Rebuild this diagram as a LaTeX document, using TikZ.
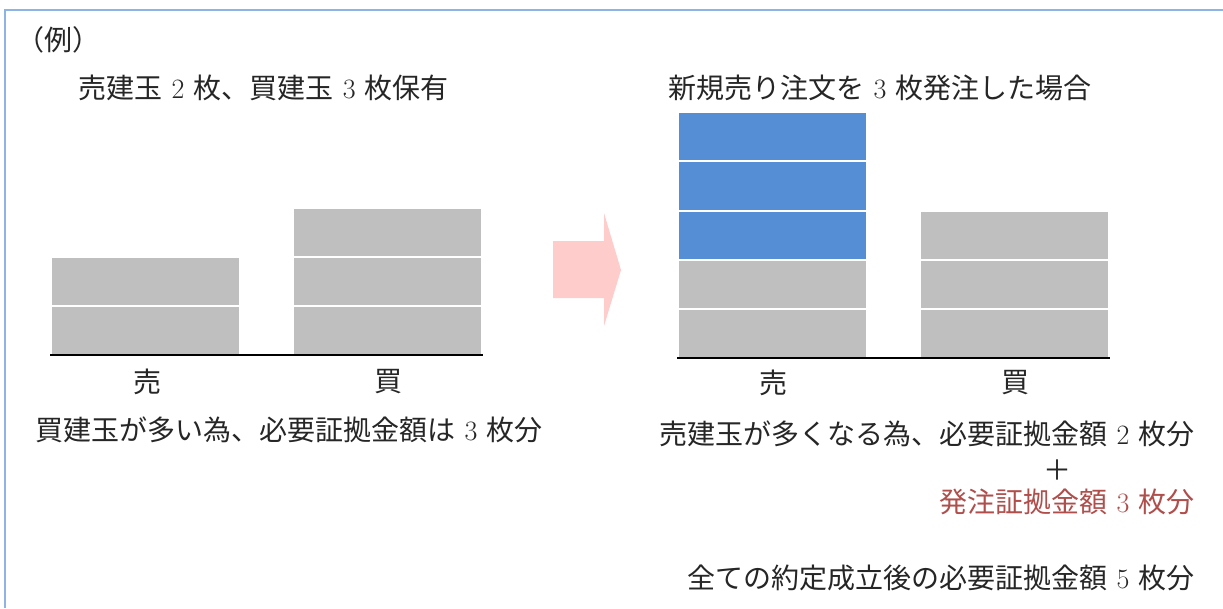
\documentclass[tikz,border=0pt]{standalone}
\usepackage{fontspec}
\newfontfamily\cjk{Noto Sans CJK JP}
\definecolor{borderblue}{RGB}{142,180,227}
\definecolor{bargray}{RGB}{191,191,191}
\definecolor{barblue}{RGB}{85,142,213}
\definecolor{arrowpink}{RGB}{255,204,204}
\definecolor{redtext}{RGB}{175,78,75}
\newcommand\dg[1]{\hspace{0.33em}{\rmfamily #1}\hspace{0.33em}}
\tikzset{
  txt/.style={inner sep=0pt, font=\cjk\fontsize{21}{25}\selectfont, text=black!85},
  gbar/.style={fill=bargray},
  bbar/.style={fill=barblue},
  base/.style={line width=1.6pt, black},
}
\begin{document}
\begin{tikzpicture}[x=0.75pt,y=-0.75pt]
\useasboundingbox (0,0) rectangle (1223,608);
\fill[white] (0,0) rectangle (1223,608);
% border
\draw[borderblue, line width=1.5pt] (4.5,608) -- (4.5,9.5) -- (1223,9.5);
% texts
\node[txt, anchor=west] (rei) at (16,40) {（例）};
\node[txt, anchor=west] (t1) at (78,88) {売建玉\dg{2}枚、買建玉\dg{3}枚保有};
\node[txt, anchor=west] (t2) at (668,88) {新規売り注文を\dg{3}枚発注した場合};
% left bars
\fill[gbar] (52,258) rectangle (239,305);
\fill[gbar] (52,307) rectangle (239,354);
\fill[gbar] (294,209) rectangle (481,256);
\fill[gbar] (294,258) rectangle (481,305);
\fill[gbar] (294,307) rectangle (481,354);
\coordinate (lb1) at (50,355);
\coordinate (lb2) at (483,355);
\draw[base] (lb1) -- (lb2);
\node[txt] (ls) at (147,382) {売};
\node[txt] (lk) at (388,382) {買};
\node[txt, anchor=west] (t3) at (35,430) {買建玉が多い為、必要証拠金額は\dg{3}枚分};
% arrow
\fill[arrowpink] (553,241) -- (604,241) -- (604,213) -- (621,270) -- (604,326) -- (604,298) -- (553,298) -- cycle;
% right bars
\fill[bbar] (679,113) rectangle (866,160);
\fill[bbar] (679,162) rectangle (866,210);
\fill[bbar] (679,212) rectangle (866,259);
\fill[gbar] (679,261) rectangle (866,308);
\fill[gbar] (679,310) rectangle (866,357);
\fill[gbar] (921,212) rectangle (1108,259);
\fill[gbar] (921,261) rectangle (1108,308);
\fill[gbar] (921,310) rectangle (1108,357);
\coordinate (rb1) at (677,358);
\coordinate (rb2) at (1110,358);
\draw[base] (rb1) -- (rb2);
\node[txt] (rs) at (773,383) {売};
\node[txt] (rk) at (1015,383) {買};
\node[txt, anchor=east] (t4) at (1195,434) {売建玉が多くなる為、必要証拠金額\dg{2}枚分};
\node[txt] (plus) at (1057,470) {＋};
\node[txt, anchor=east, text=redtext] (t5) at (1195,502) {発注証拠金額\dg{3}枚分};
\node[txt, anchor=east] (t6) at (1195,578) {全ての約定成立後の必要証拠金額\dg{5}枚分};
\end{tikzpicture}
\end{document}
